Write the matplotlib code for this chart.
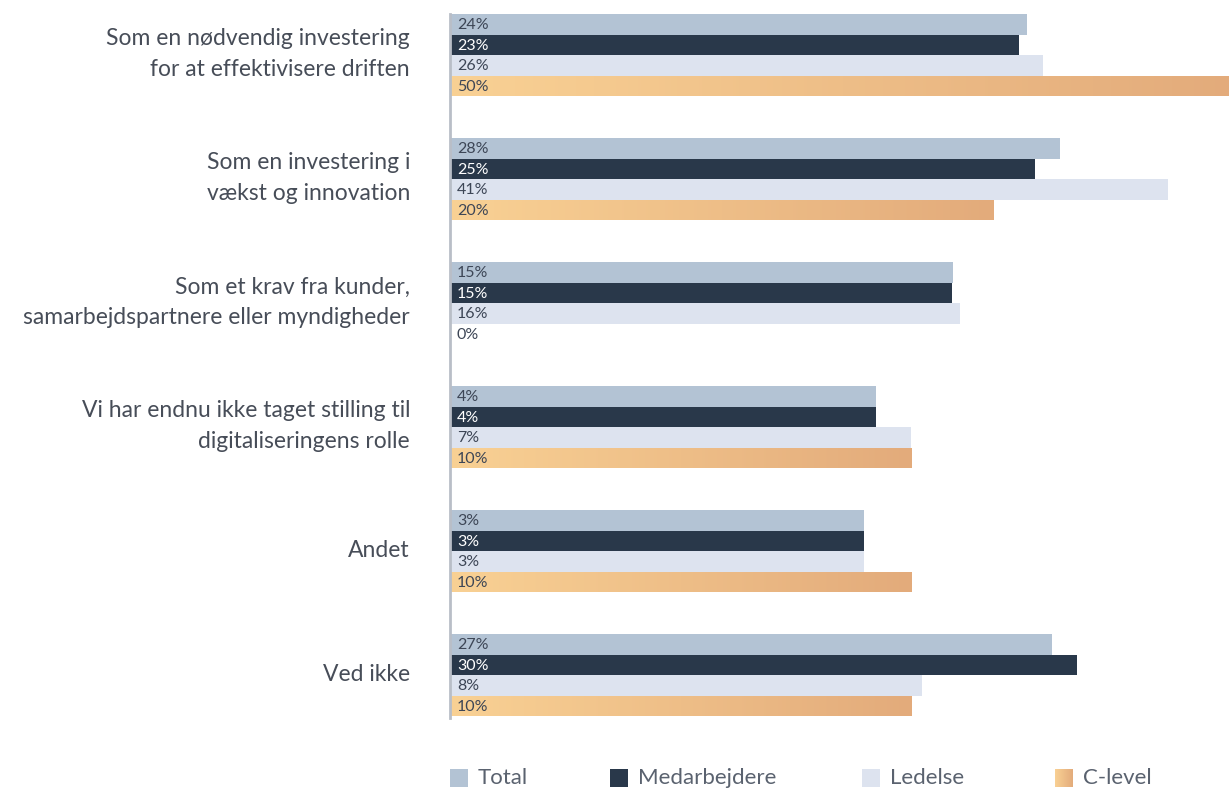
import numpy as np
import matplotlib
matplotlib.use("Agg")
import matplotlib.pyplot as plt
from matplotlib.patches import Rectangle
from matplotlib.colors import LinearSegmentedColormap

plt.rcParams['font.family'] = ['Lato', 'DejaVu Sans']

categories = [
    "Som en nødvendig investering\nfor at effektivisere driften",
    "Som en investering i\nvækst og innovation",
    "Som et krav fra kunder,\nsamarbejdspartnere eller myndigheder",
    "Vi har endnu ikke taget stilling til\ndigitaliseringens rolle",
    "Andet",
    "Ved ikke",
]
series = ["Total", "Medarbejdere", "Ledelse", "C-level"]

# percentages printed in the bars
pct_total = [24, 28, 15, 4, 3, 27]
pct_medarb = [23, 25, 15, 4, 3, 30]
pct_ledelse = [26, 41, 16, 7, 3, 8]
pct_clevel = [50, 20, 0, 10, 10, 10]

# bar lengths as drawn in the picture (share of plot width, 100 = right edge)
len_total = [74.1, 78.3, 64.6, 54.7, 53.1, 77.3]
len_medarb = [73.0, 75.1, 64.4, 54.7, 53.1, 80.5]
len_ledelse = [76.1, 92.2, 65.5, 59.2, 53.1, 60.6]
len_clevel = [101, 69.8, 0, 59.2, 59.2, 59.2]

pcts = [pct_total, pct_medarb, pct_ledelse, pct_clevel]
lens = [len_total, len_medarb, len_ledelse, len_clevel]

c_total = "#b3c3d4"
c_medarb = "#29384a"
c_ledelse = "#dde3ef"
grad = LinearSegmentedColormap.from_list("cl", ["#f9d194", "#e3ab7b"])
colors = [c_total, c_medarb, c_ledelse, None]
txt_colors = ["#3d4656", "white", "#3d4656", "#3d4656"]

W, H = 1229, 792
fig = plt.figure(figsize=(W / 100, H / 100), dpi=100)
stride = 6.05
ymax = 5 * stride + 4 + 0.1
top_px, px_per = 14, 20.5
ax = fig.add_axes([450 / W, 1 - (top_px + ymax * px_per) / H, 1 - 450 / W, ymax * px_per / H])
ax.set_xlim(0, 100)
ax.set_ylim(ymax, 0)

gimg = np.linspace(0, 1, 256).reshape(1, -1)
for g in range(len(categories)):
    for s in range(4):
        y0 = g * stride + s
        L = lens[s][g]
        if L > 0:
            if colors[s] is not None:
                ax.barh(y0 + 0.5, L, height=1.0, color=colors[s], linewidth=0)
            else:
                im = ax.imshow(gimg, cmap=grad, aspect='auto',
                               extent=[0, L, y0 + 1, y0], zorder=2)
                rect = Rectangle((0, y0), L, 1, transform=ax.transData,
                                 facecolor='none', edgecolor='none')
                ax.add_patch(rect)
                im.set_clip_path(rect)
        ax.annotate(f"{pcts[s][g]}%", (0, y0 + 0.55), xytext=(5, 0),
                    textcoords='offset points', va='center', ha='left',
                    fontsize=11.5, color=txt_colors[s], zorder=3)
    ax.text(-40 / 7.79, g * stride + 1.95, categories[g], ha='right', va='center',
            fontsize=16.5, color="#474d58", linespacing=1.55,
            transform=ax.transData)

ax.set_xlim(0, 100)
ax.set_ylim(ymax, 0)
for sp in ['top', 'right', 'bottom']:
    ax.spines[sp].set_visible(False)
ax.spines['left'].set_color("#b9bec7")
ax.spines['left'].set_linewidth(2)
ax.set_xticks([])
ax.set_yticks([])

# legend
leg_x = [450, 610, 862, 1055]
sq = 18
yc = 778
for i, name in enumerate(series):
    x0 = leg_x[i]
    if colors[i] is not None:
        fig.patches.append(Rectangle((x0 / W, 1 - (yc + sq / 2) / H), sq / W, sq / H,
                                     transform=fig.transFigure, facecolor=colors[i],
                                     edgecolor='none'))
    else:
        lax = fig.add_axes([x0 / W, 1 - (yc + sq / 2) / H, sq / W, sq / H])
        lax.imshow(gimg, cmap=grad, aspect='auto')
        lax.axis('off')
    fig.text((x0 + sq + 10) / W, 1 - yc / H, name, ha='left', va='center',
             fontsize=16, color="#5a626f")

fig.savefig("out.png", dpi=100)
